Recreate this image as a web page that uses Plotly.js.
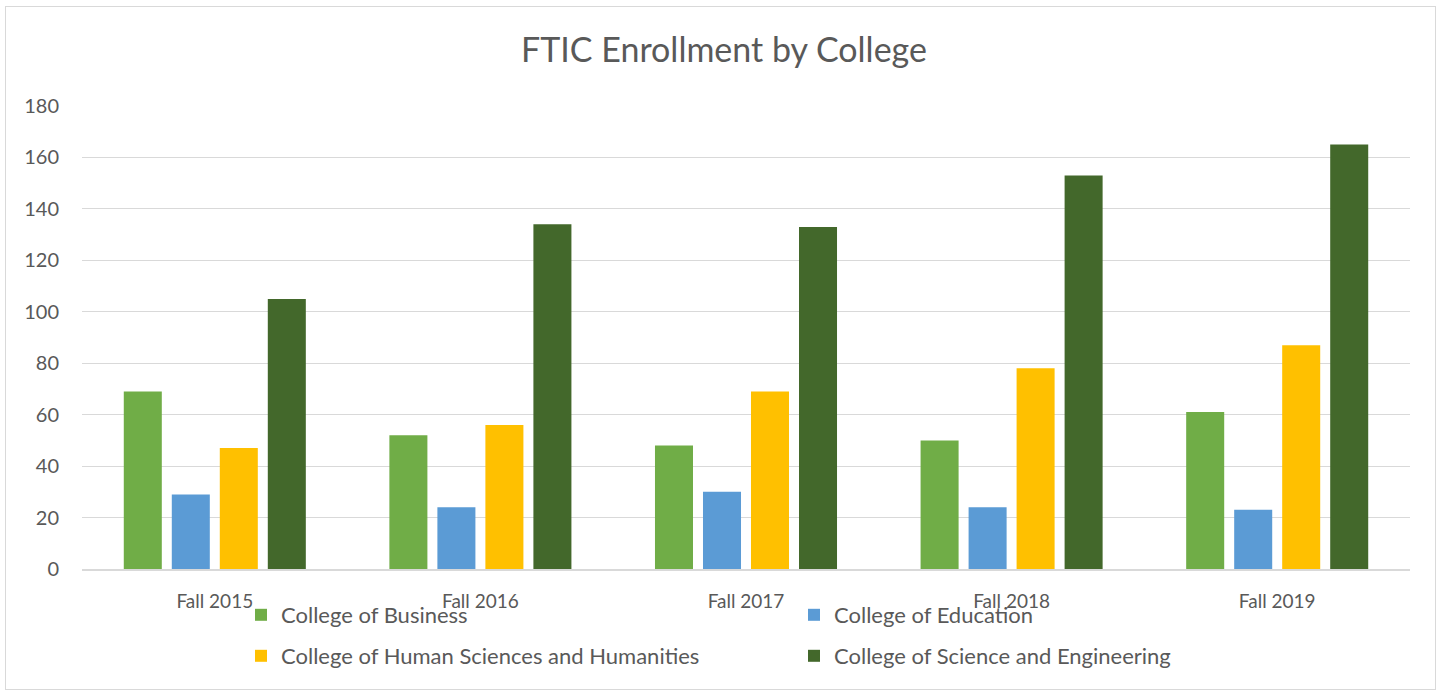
<!DOCTYPE html>
<html>
<head>
<meta charset="utf-8">
<script src="https://cdn.plot.ly/plotly-3.0.1.min.js"></script>
<style>
  html, body { margin: 0; padding: 0; background: #ffffff; }
  #chart { width: 1448px; height: 692px; position: relative; }
  #frame { position: absolute; left: 5px; top: 6px; width: 1431px; height: 684px;
           border: 1.5px solid #d9d9d9; box-sizing: border-box; pointer-events: none; }
</style>
</head>
<body>
<div id="chart"></div>
<div id="frame"></div>
<script>
const categories = ["Fall 2015", "Fall 2016", "Fall 2017", "Fall 2018", "Fall 2019"];
const business = [69, 52, 48, 50, 61];
const education = [29, 24, 30, 24, 23];
const humanSciences = [47, 56, 69, 78, 87];
const scienceEngineering = [105, 134, 133, 153, 165];
const seriesNames = ["College of Business", "College of Education",
  "College of Human Sciences and Humanities", "College of Science and Engineering"];
const seriesColors = ["#70AD47", "#5B9BD5", "#FFC000", "#43682B"];
const yTicks = [0, 20, 40, 60, 80, 100, 120, 140, 160, 180];

const FONT = "Lato, 'Liberation Sans', sans-serif";
const TEXT = "#595959";

const seriesValues = [business, education, humanSciences, scienceEngineering];
const legendIds = ["legend", "legend", "legend2", "legend2"];
const traces = seriesValues.map((vals, i) => ({
  type: "bar",
  name: seriesNames[i],
  x: categories,
  y: vals,
  marker: { color: seriesColors[i], line: { width: 0 } },
  legend: legendIds[i],
  hoverinfo: "x+y+name"
}));

const legendCommon = {
  orientation: "h",
  xref: "container", yref: "container",
  xanchor: "left", yanchor: "middle",
  entrywidth: 508, entrywidthmode: "pixels",
  font: { family: FONT, size: 22, color: TEXT },
  bgcolor: "rgba(0,0,0,0)",
  itemclick: false, itemdoubleclick: false,
  traceorder: "normal"
};

const layout = {
  width: 1448, height: 692,
  paper_bgcolor: "#ffffff", plot_bgcolor: "#ffffff",
  margin: { l: 82, r: 38, t: 106, b: 123 },
  font: { family: FONT, color: TEXT },
  title: {
    text: "FTIC Enrollment by College",
    font: { family: FONT, size: 34, color: TEXT },
    x: 0.5, xanchor: "center",
    y: 1 - 50 / 692, yanchor: "middle", yref: "container"
  },
  barmode: "group",
  bargap: 0.277,
  bargroupgap: 0.208,
  xaxis: {
    type: "category",
    showgrid: false,
    showline: true, linecolor: "#d9d9d9", linewidth: 2,
    ticks: "", ticklabelstandoff: 14,
    tickfont: { family: FONT, size: 19, color: TEXT },
    fixedrange: true
  },
  yaxis: {
    range: [0, 180],
    tickvals: yTicks,
    showgrid: true, gridcolor: "#d9d9d9", gridwidth: 1,
    zeroline: false, showline: false,
    ticks: "", ticklabelstandoff: 22,
    tickfont: { family: FONT, size: 20, color: TEXT },
    fixedrange: true
  },
  showlegend: true,
  legend: Object.assign({}, legendCommon, { x: 241 / 1448, y: 1 - 615 / 692 }),
  legend2: Object.assign({}, legendCommon, { x: 241 / 1448, y: 1 - 656 / 692 })
};

Plotly.newPlot("chart", traces, layout, { displayModeBar: false, staticPlot: true });
</script>
</body>
</html>
